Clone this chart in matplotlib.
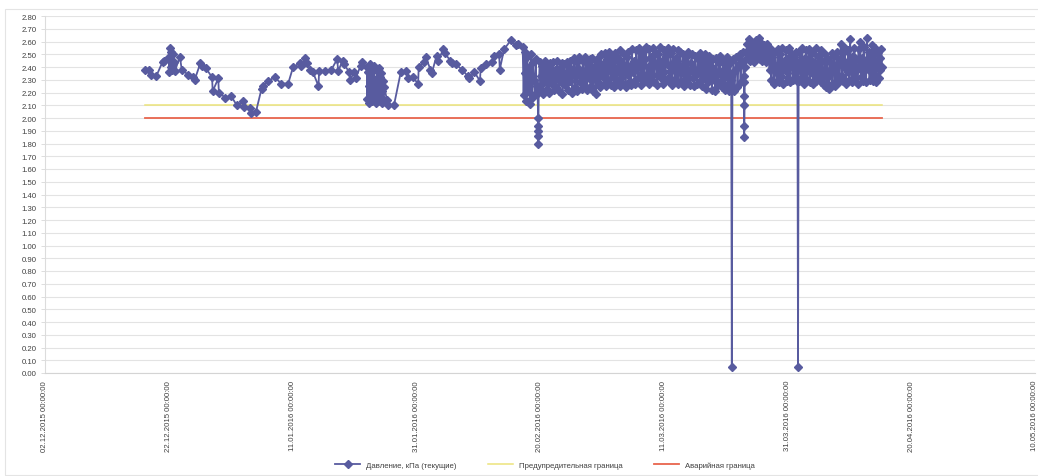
import numpy as np
import pandas as pd
import matplotlib
matplotlib.use("Agg")
import matplotlib.pyplot as plt
import matplotlib.dates as mdates
from matplotlib.patches import Rectangle

plt.rcParams['font.family'] = ['Liberation Sans', 'DejaVu Sans']

# ---------------- data (days after 02.12.2015, pressure kPa) ----------------
start_date = "2015-12-02"
tick_step_days = 20
n_ticks = 9

sparse1_days = [16.2, 16.8, 17.1, 18.0, 19.0, 19.3, 20.0, 20.1, 20.2, 20.3,
                20.4, 20.5, 20.7, 20.9, 21.0, 21.8, 22.1, 23.1, 24.0, 24.2,
                25.1, 25.4, 26.0, 27.0, 27.1, 28.0, 28.1, 29.1, 30.1, 31.0,
                32.0, 32.2, 33.1, 33.3, 34.1, 35.0, 35.2, 36.1, 37.1, 38.2,
                39.3, 40.1, 41.2, 41.3, 42.1, 42.3, 42.9, 43.3, 44.2, 44.3,
                45.3, 46.3, 47.2, 47.4, 48.1, 48.3, 49.2, 49.3, 50.0, 50.2,
                51.0, 51.3]
sparse1_vals = [2.38, 2.38, 2.34, 2.33, 2.44, 2.45, 2.48, 2.36, 2.55, 2.40,
                2.52, 2.38, 2.50, 2.44, 2.37, 2.48, 2.38, 2.34, 2.32, 2.30,
                2.43, 2.41, 2.39, 2.32, 2.21, 2.31, 2.20, 2.16, 2.17, 2.10,
                2.13, 2.09, 2.08, 2.04, 2.05, 2.23, 2.25, 2.29, 2.32, 2.27,
                2.27, 2.40, 2.43, 2.41, 2.47, 2.43, 2.38, 2.36, 2.25, 2.37,
                2.37, 2.38, 2.46, 2.37, 2.45, 2.42, 2.36, 2.30, 2.36, 2.31,
                2.41, 2.44]

cluster1_span = (52.0, 54.8)
cluster1_vals = [2.40, 2.15, 2.36, 2.25, 2.12, 2.42, 2.20, 2.33, 2.13, 2.38,
                 2.28, 2.17, 2.41, 2.14, 2.30, 2.22, 2.12, 2.37, 2.18, 2.26,
                 2.39, 2.16, 2.32, 2.13, 2.35, 2.21, 2.12, 2.29, 2.15, 2.24]

sparse2_days = [55.3, 55.4, 56.4, 57.5, 58.4, 58.6, 59.4, 60.3, 60.4, 61.3,
                61.5, 62.3, 62.5, 63.3, 63.5, 64.4, 64.6, 65.5, 65.7, 66.4,
                67.4, 68.3, 68.5, 69.4, 70.3, 70.4, 71.3, 72.2, 72.6, 73.4,
                73.5, 74.2, 75.3, 76.1, 76.5]
sparse2_vals = [2.14, 2.10, 2.10, 2.36, 2.37, 2.31, 2.32, 2.27, 2.40, 2.44,
                2.48, 2.38, 2.35, 2.49, 2.45, 2.54, 2.51, 2.45, 2.43, 2.42,
                2.38, 2.33, 2.31, 2.36, 2.29, 2.39, 2.42, 2.44, 2.49, 2.50,
                2.38, 2.54, 2.61, 2.57, 2.58]

dense_a_span = (77.2, 79.6)
dense_a_vals = [2.56, 2.18, 2.52, 2.35, 2.13, 2.48, 2.22, 2.40, 2.11, 2.50,
                2.16, 2.44, 2.30, 2.19, 2.46, 2.25, 2.20]

drop_days = [79.7, 111.0, 113.0, 121.7]
drop1_vals = [2.00, 1.94, 1.90, 1.86, 1.80]

dense_b_span = (79.8, 110.9)
dense_b_vals = [2.21, 2.44, 2.33, 2.26, 2.41, 2.19, 2.37, 2.45, 2.29, 2.23,
                2.40, 2.31, 2.20, 2.43, 2.35, 2.27, 2.44, 2.22, 2.38, 2.30,
                2.24, 2.45, 2.34, 2.21, 2.39, 2.28, 2.43, 2.19, 2.36, 2.42,
                2.26, 2.32, 2.44, 2.22, 2.40, 2.29, 2.45, 2.35, 2.20, 2.37,
                2.47, 2.24, 2.33, 2.44, 2.21, 2.39, 2.48, 2.28, 2.36, 2.23,
                2.45, 2.31, 2.26, 2.48, 2.38, 2.22, 2.42, 2.34, 2.46, 2.25,
                2.30, 2.47, 2.21, 2.40, 2.35, 2.19, 2.44, 2.28, 2.48, 2.37,
                2.24, 2.50, 2.33, 2.42, 2.27, 2.51, 2.36, 2.25, 2.46, 2.30,
                2.52, 2.38, 2.26, 2.49, 2.32, 2.44, 2.24, 2.51, 2.35, 2.29,
                2.47, 2.40, 2.25, 2.53, 2.31, 2.43, 2.27, 2.50, 2.37, 2.24,
                2.48, 2.34, 2.52, 2.28, 2.41, 2.26, 2.54, 2.36, 2.45, 2.30,
                2.27, 2.53, 2.39, 2.31, 2.55, 2.44, 2.26, 2.49, 2.35, 2.52,
                2.29, 2.46, 2.56, 2.33, 2.40, 2.27, 2.54, 2.37, 2.48, 2.30,
                2.55, 2.28, 2.43, 2.51, 2.34, 2.26, 2.50, 2.39, 2.56, 2.31,
                2.45, 2.27, 2.53, 2.36, 2.29, 2.49, 2.42, 2.55, 2.32, 2.28,
                2.51, 2.38, 2.26, 2.54, 2.44, 2.30, 2.47, 2.35, 2.53, 2.27,
                2.41, 2.52, 2.29, 2.37, 2.50, 2.25, 2.45, 2.33, 2.48, 2.28,
                2.52, 2.36, 2.26, 2.43, 2.50, 2.31, 2.39, 2.25, 2.49, 2.34,
                2.27, 2.46, 2.38, 2.51, 2.29, 2.42, 2.25, 2.47, 2.33, 2.50,
                2.23, 2.44, 2.36, 2.28, 2.49, 2.32, 2.41, 2.22, 2.46, 2.30,
                2.38, 2.21, 2.47, 2.34, 2.26, 2.43, 2.49, 2.29, 2.37, 2.24,
                2.45, 2.31, 2.22, 2.40, 2.48, 2.27, 2.35, 2.21, 2.43, 2.30]

drop2_vals = [0.05]

dense_c_span = (111.1, 112.9)
dense_c_vals = [2.25, 2.46, 2.21, 2.38, 2.48, 2.24, 2.42, 2.50, 2.28, 2.45,
                2.52, 2.33]

drop3_vals = [2.28, 2.17, 2.10, 1.94, 1.85]

dense_d_span = (113.1, 117.0)
dense_d_vals = [2.40, 2.52, 2.46, 2.58, 2.50, 2.62, 2.45, 2.55, 2.60, 2.48,
                2.57, 2.44, 2.53, 2.61, 2.47, 2.56, 2.50, 2.63, 2.46, 2.54,
                2.59, 2.45, 2.52, 2.57, 2.48, 2.55, 2.44, 2.58, 2.50, 2.46]

dense_e1_span = (117.1, 121.6)
dense_e1_vals = [2.38, 2.55, 2.30, 2.48, 2.42, 2.27, 2.52, 2.36, 2.29, 2.54,
                 2.42, 2.28, 2.50, 2.33, 2.55, 2.27, 2.45, 2.38, 2.53, 2.29,
                 2.47, 2.31, 2.55, 2.28, 2.43, 2.50, 2.30, 2.48, 2.35, 2.52,
                 2.29, 2.44]

drop4_vals = [0.05]

dense_e2_span = (121.8, 135.3)
dense_e2_vals = [2.29, 2.52, 2.38, 2.31, 2.55, 2.44, 2.27, 2.47, 2.35, 2.53,
                 2.30, 2.41, 2.54, 2.28, 2.46, 2.36, 2.51, 2.27, 2.43, 2.33,
                 2.55, 2.29, 2.40, 2.49, 2.31, 2.37, 2.53, 2.28, 2.45, 2.34,
                 2.26, 2.50, 2.38, 2.24, 2.47, 2.32, 2.23, 2.44, 2.36, 2.51,
                 2.27, 2.41, 2.49, 2.25, 2.35, 2.52, 2.30, 2.43, 2.28, 2.46,
                 2.58, 2.33, 2.29, 2.51, 2.40, 2.55, 2.27, 2.44, 2.36, 2.53,
                 2.30, 2.62, 2.42, 2.28, 2.49, 2.35, 2.55, 2.31, 2.46, 2.38,
                 2.27, 2.54, 2.40, 2.60, 2.32, 2.47, 2.29, 2.56, 2.37, 2.44,
                 2.28, 2.63, 2.41, 2.52, 2.30, 2.46, 2.36, 2.57, 2.29, 2.50,
                 2.34, 2.55, 2.28, 2.43, 2.52, 2.31, 2.47, 2.38, 2.54, 2.40]

warn_level = 2.10
alarm_level = 2.00

label_pressure = "Давление, кПа (текущие)"
label_warn = "Предупредительная граница"
label_alarm = "Аварийная граница"

# ---------------- assemble the series ----------------
def sampled(span, vals):
    return np.linspace(span[0], span[1], len(vals))

pieces = [
    (np.array(sparse1_days), sparse1_vals),
    (sampled(cluster1_span, cluster1_vals), cluster1_vals),
    (np.array(sparse2_days), sparse2_vals),
    (sampled(dense_a_span, dense_a_vals), dense_a_vals),
    (np.full(len(drop1_vals), drop_days[0]), drop1_vals),
    (sampled(dense_b_span, dense_b_vals), dense_b_vals),
    (np.full(len(drop2_vals), drop_days[1]), drop2_vals),
    (sampled(dense_c_span, dense_c_vals), dense_c_vals),
    (np.full(len(drop3_vals), drop_days[2]), drop3_vals),
    (sampled(dense_d_span, dense_d_vals), dense_d_vals),
    (sampled(dense_e1_span, dense_e1_vals), dense_e1_vals),
    (np.full(len(drop4_vals), drop_days[3]), drop4_vals),
    (sampled(dense_e2_span, dense_e2_vals), dense_e2_vals),
]
days = np.concatenate([p[0] for p in pieces])
vals = np.concatenate([np.asarray(p[1], float) for p in pieces])

t0 = pd.Timestamp(start_date)
to_dates = lambda d: (t0 + pd.to_timedelta(np.asarray(d), unit="D")).to_numpy()
x = to_dates(days)
x_lim_ends = to_dates([days.min(), days.max()])

# ---------------- figure ----------------
W, H = 1038, 477
fig = plt.figure(figsize=(W / 100, H / 100), dpi=100)
fig.patches.append(Rectangle((5 / W, 1 / H), 1.0, 1 - 11 / H, transform=fig.transFigure,
                             fill=False, edgecolor="#e4e4e4", linewidth=0.8))
ax = fig.add_axes([45 / W, 1 - 374 / H, (1035 - 45) / W, (374 - 17) / H])

col = "#585b9f"
ax.plot(x, vals, color=col, lw=1.3, marker="D", ms=3.7, mec=col, mew=1.0,
        label=label_pressure, zorder=3)
ax.plot(x_lim_ends, [warn_level, warn_level], color="#ece37a", lw=1.1,
        label=label_warn, zorder=2)
ax.plot(x_lim_ends, [alarm_level, alarm_level], color="#e8654d", lw=1.3,
        label=label_alarm, zorder=2)

ax.set_ylim(0, 2.8)
ax.set_yticks(np.round(np.arange(0, 2.801, 0.1), 2))
ax.yaxis.set_major_formatter(matplotlib.ticker.FormatStrFormatter("%.2f"))

ticks = to_dates(np.arange(n_ticks) * tick_step_days)
ax.set_xlim(ticks[0], ticks[-1])
ax.set_xticks(ticks)
ax.xaxis.set_major_formatter(mdates.DateFormatter("%d.%m.%Y %H:%M:%S"))

ax.grid(axis="y", color="#e3e3e3", lw=0.8)
ax.set_axisbelow(True)
for s in ["top", "right"]:
    ax.spines[s].set_visible(False)
ax.spines["left"].set_color("#dcdcdc")
ax.spines["bottom"].set_color("#d4d4d4")
ax.tick_params(axis="y", labelsize=5.6, colors="#d8d8d8", labelcolor="#404040",
               length=3, width=0.6, pad=3)
ax.tick_params(axis="x", labelsize=5.6, colors="#d8d8d8", labelcolor="#404040",
               length=0, pad=5, labelrotation=90)

fig.legend(loc="lower center", bbox_to_anchor=(545 / W, 0.0), ncol=3, frameon=False,
           fontsize=5.6, handlelength=3.2, columnspacing=4.0, labelcolor="#404040")

fig.savefig("out.png", dpi=100)
